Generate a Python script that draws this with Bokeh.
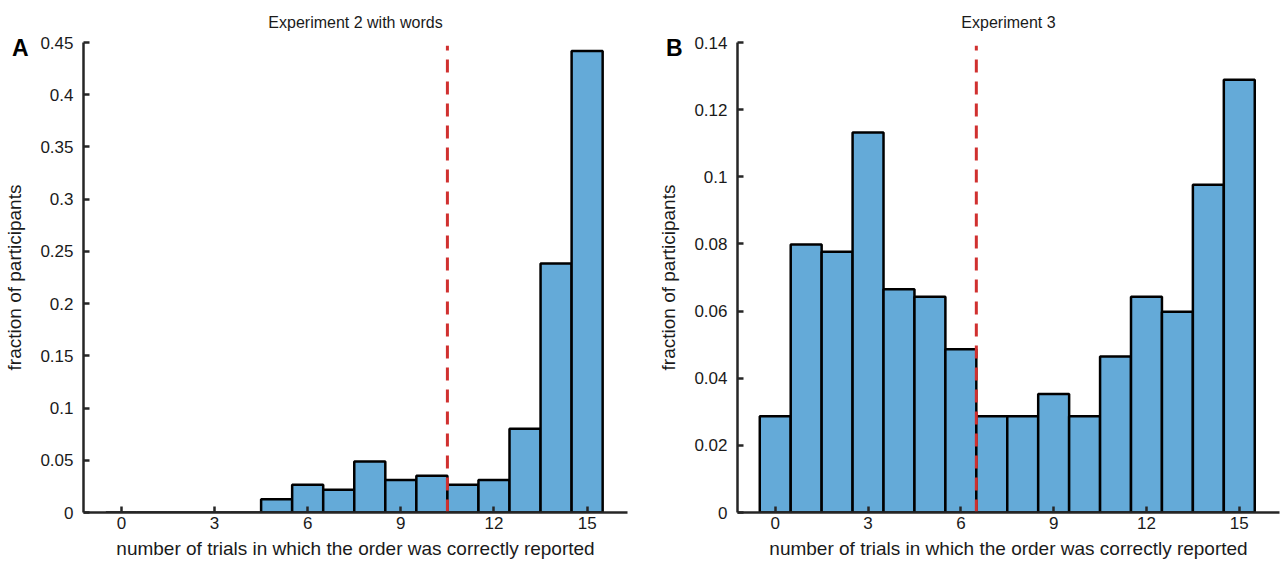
from bokeh.plotting import figure
from bokeh.layouts import row
from bokeh.models import FixedTicker, LinearAxis, Range1d
from bokeh.embed import file_html
from bokeh.resources import INLINE

# ---- data ----
trials = list(range(16))
exp2_fraction = [0, 0, 0, 0, 0, 0.0127, 0.0265, 0.0217, 0.0489, 0.0310,
                 0.0351, 0.0265, 0.0310, 0.0802, 0.2383, 0.4418]
exp3_fraction = [0.0287, 0.0798, 0.0777, 0.1132, 0.0665, 0.0643, 0.0486, 0.0287,
                 0.0287, 0.0353, 0.0287, 0.0465, 0.0643, 0.0598, 0.0976, 0.1289]
x_ticks = [0, 3, 6, 9, 12, 15]
exp2_yticks = [0, 0.05, 0.1, 0.15, 0.2, 0.25, 0.3, 0.35, 0.4, 0.45]
exp3_yticks = [0, 0.02, 0.04, 0.06, 0.08, 0.1, 0.12, 0.14]
exp2_threshold = 10.5
exp3_threshold = 6.5

FONT = "Liberation Sans"
BAR_FILL = "#64aad8"
AXIS_COL = "#262626"
TEXT_COL = "#1a1a1a"
RED = "#d0302f"


def style_axis(ax):
    ax.axis_line_color = AXIS_COL
    ax.axis_line_width = 2.5
    ax.major_tick_line_color = AXIS_COL
    ax.major_tick_line_width = 2.5
    ax.major_tick_in = 6
    ax.major_tick_out = 0
    ax.minor_tick_line_color = None
    ax.major_label_text_font = FONT
    ax.major_label_text_font_size = "17px"
    ax.major_label_text_color = TEXT_COL
    ax.axis_label_text_font = FONT
    ax.axis_label_text_font_size = "19px"
    ax.axis_label_text_font_style = "normal"
    ax.axis_label_text_color = TEXT_COL


def make_panel(values, yticks, ymax, thresh, title, letter, width, height,
               left, right):
    p = figure(width=width, height=height, output_backend="svg",
               toolbar_location=None, x_range=Range1d(-1.22, 16.3),
               y_range=Range1d(0, ymax), min_border_left=left,
               min_border_right=right, min_border_top=42, min_border_bottom=52)
    p.title.text = title
    p.title.align = "center"
    p.title.text_font = FONT
    p.title.text_font_size = "16px"
    p.title.text_font_style = "normal"
    p.title.text_color = TEXT_COL
    p.title.standoff = 23

    lefts = [t - 0.5 for t in trials]
    rights = [t + 0.5 for t in trials]
    p.quad(left=lefts, right=rights, bottom=0, top=values,
           fill_color=BAR_FILL, line_color="black", line_width=2.5)
    p.line(x=[thresh, thresh], y=[0, ymax * 0.993], line_color=RED,
           line_width=3, line_dash="13 9")

    p.xgrid.visible = False
    p.ygrid.visible = False
    p.outline_line_color = None
    p.background_fill_color = "white"
    p.border_fill_color = "white"

    p.xaxis.ticker = FixedTicker(ticks=x_ticks)
    p.yaxis.ticker = FixedTicker(ticks=yticks)
    p.yaxis.major_label_overrides = {t: ("0" if t == 0 else ("%g" % t)) for t in yticks}
    style_axis(p.xaxis[0])
    style_axis(p.yaxis[0])
    p.xaxis.axis_label = "number of trials in which the order was correctly reported"
    p.xaxis.major_label_standoff = 4
    p.xaxis.axis_label_standoff = 6
    p.yaxis.major_label_standoff = 10

    # outer left axis: carries the panel letter (as its only tick label) and the y label
    letter_pos = round(ymax * 0.989, 4)
    outer = LinearAxis(ticker=FixedTicker(ticks=[letter_pos]),
                       major_label_overrides={letter_pos: letter})
    style_axis(outer)
    outer.axis_line_color = None
    outer.major_tick_line_color = None
    outer.major_label_text_font_size = "23px"
    outer.major_label_text_font_style = "bold"
    outer.major_label_text_color = "black"
    outer.major_label_standoff = 9
    outer.axis_label = "fraction of participants"
    outer.axis_label_standoff = -16
    p.add_layout(outer, "left")
    return p


pA = make_panel(exp2_fraction, exp2_yticks, 0.45, exp2_threshold,
                "Experiment 2 with words", "A", 640, 564, 81, 13)
pB = make_panel(exp3_fraction, exp3_yticks, 0.14, exp3_threshold,
                "Experiment 3", "B", 648, 564, 97, 9)

layout = row(pA, pB)
open("out.html", "w").write(file_html(layout, INLINE))
